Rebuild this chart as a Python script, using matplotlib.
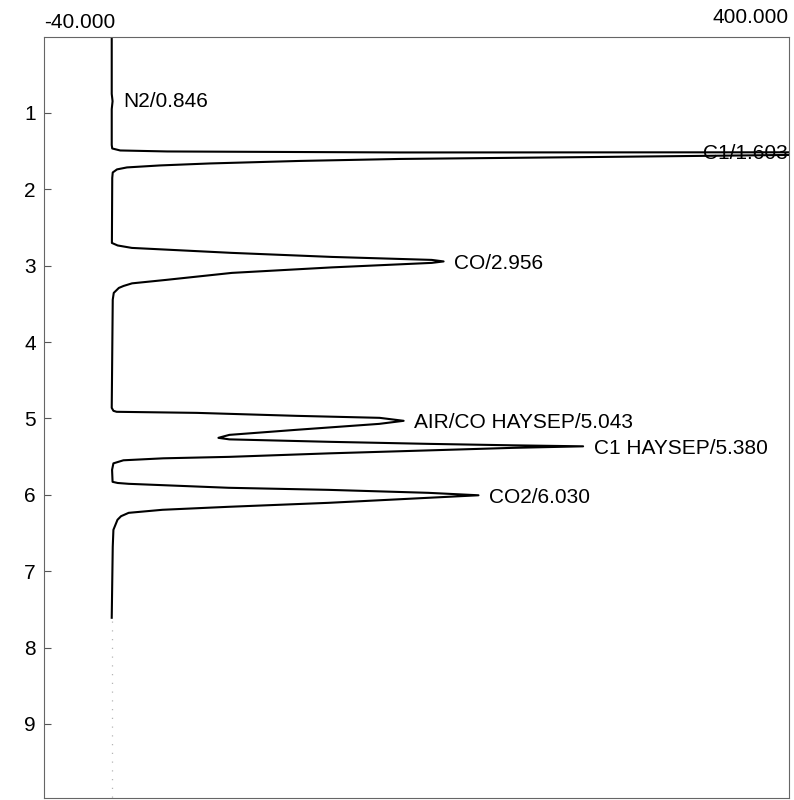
import matplotlib
matplotlib.use("Agg")
import matplotlib.pyplot as plt

plt.rcParams['font.family'] = ['Liberation Sans', 'DejaVu Sans']

# ---- data (time in min, signal in detector units) ----
trace_time = [
    0.00, 0.75, 0.846, 0.95, 1.419,
    1.465, 1.491, 1.504, 1.517, 1.515, 1.54,
    1.550, 1.576, 1.602, 1.628, 1.661, 1.687, 1.713, 1.739, 1.779, 1.851,
    2.702, 2.735, 2.767, 2.832, 2.885, 2.924, 2.944,
    2.963, 3.022, 3.094, 3.186, 3.231, 3.265, 3.291, 3.356, 3.445,
    4.861, 4.900, 4.913, 4.927, 4.966, 4.992, 5.031,
    5.071, 5.149, 5.215, 5.254,
    5.274, 5.306, 5.333, 5.352, 5.365,
    5.385, 5.418, 5.457, 5.503, 5.522, 5.548, 5.588, 5.673,
    5.830, 5.845, 5.856, 5.908, 5.935, 5.974, 6.006,
    6.039, 6.105, 6.157, 6.196, 6.236, 6.280, 6.327, 6.458, 6.681,
    7.61,
]
trace_signal = [
    0.0, 0.0, 0.5, 0.0, 0.0,
    0.3, 5.0, 32.8, 170.4, 399.0, 800.0,
    399.0, 288.5, 170.3, 111.2, 58.0, 28.5, 9.0, 3.1, 0.6, 0.3,
    0.1, 3.5, 11.9, 70.9, 130.0, 189.0, 196.0,
    189.0, 130.0, 71.0, 32.0, 12.0, 7.0, 4.2, 1.2, 0.6,
    0.0, 1.0, 2.9, 50.2, 109.2, 158.2, 172.4,
    158.0, 109.0, 69.5, 63.0,
    69.5, 128.5, 187.5, 237.0, 278.4,
    237.0, 187.5, 128.5, 69.4, 30.5, 6.9, 1.0, 0.2,
    0.5, 3.5, 10.0, 69.0, 128.0, 187.0, 216.6,
    187.0, 128.0, 69.0, 30.0, 10.0, 5.5, 3.4, 1.0, 0.6,
    0.0,
]

peak_names = ['N2', 'C1', 'CO', 'AIR/CO HAYSEP', 'C1 HAYSEP', 'CO2']
peak_rt = [0.846, 1.603, 2.956, 5.043, 5.380, 6.030]
label_time = [0.83, 1.51, 2.944, 5.031, 5.365, 6.006]
label_signal = [0.5, 400.0, 196.0, 172.4, 278.4, 216.6]

x_min, x_max = -40.0, 400.0
t_min, t_max = 0.0, 9.97
time_ticks = [1, 2, 3, 4, 5, 6, 7, 8, 9]

# ---- figure ----
fig = plt.figure(figsize=(7.94, 8.0), dpi=100)
W, H = 794, 800
ax = fig.add_axes([44 / W, 1 - 798 / H, (789 - 44) / W, (798 - 36.6) / H])

ax.plot(trace_signal, trace_time, color='black', lw=1.5, solid_joinstyle='round')
# faint dotted continuation of the zero line below the trace
ax.plot([0, 0], [7.65, t_max], color='#b5b5b5', lw=0.9, ls=(0, (1, 6)))

ax.set_xlim(x_min, x_max)
ax.set_ylim(t_max, t_min)
ax.set_xticks([])
ax.set_yticks(time_ticks)
ax.set_yticklabels([str(v) for v in time_ticks])
ax.tick_params(axis='y', direction='in', length=5, width=0.8, color='#555555',
               labelsize=15, pad=6)
for sp in ax.spines.values():
    sp.set_color('#666666')
    sp.set_linewidth(0.8)

# corner scale labels
ax.text(0.0, 1.006, f"{x_min:.3f}", transform=ax.transAxes, ha='left', va='bottom', fontsize=15)
ax.text(1.0, 1.012, f"{x_max:.3f}", transform=ax.transAxes, ha='right', va='bottom', fontsize=15)

# peak labels
for name, rt, lt, ls in zip(peak_names, peak_rt, label_time, label_signal):
    txt = f"{name}/{rt:.3f}"
    if ls >= x_max:
        ax.text(ls - 0.5, lt, txt, ha='right', va='center_baseline', fontsize=15, clip_on=False)
    else:
        ax.annotate(txt, xy=(ls, lt), xytext=(7.5, 0), textcoords='offset points',
                    ha='left', va='center_baseline', fontsize=15)

fig.savefig('out.png', dpi=100)
